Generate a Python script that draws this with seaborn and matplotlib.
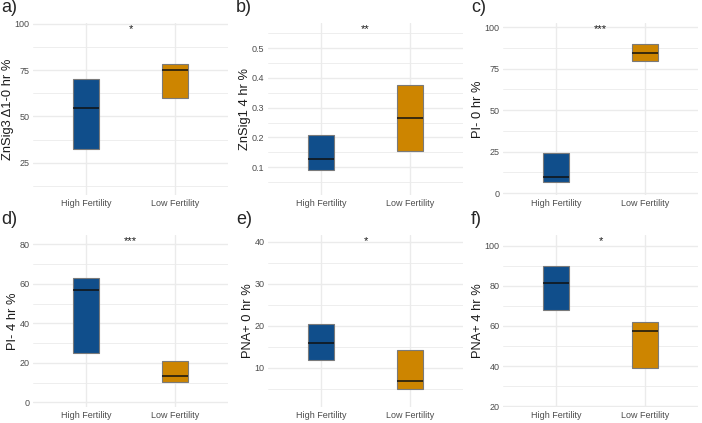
import matplotlib
matplotlib.use("Agg")
import matplotlib.pyplot as plt
from matplotlib.ticker import AutoMinorLocator, MultipleLocator
import pandas as pd
import seaborn as sns

GROUPS = ["High Fertility", "Low Fertility"]
PALETTE = {"High Fertility": "#104E8B", "Low Fertility": "#CD8500"}

PANEL_TAGS = ["a)", "b)", "c)", "d)", "e)", "f)"]
Y_LABELS = [
    "ZnSig3 \u03941-0 hr %",
    "ZnSig1 4 hr %",
    "PI- 0 hr %",
    "PI- 4 hr %",
    "PNA+ 0 hr %",
    "PNA+ 4 hr %",
]
STARS = ["*", "**", "***", "***", "*", "*"]

# box edges and medians per panel: [high fertility, low fertility]
BOX_LOWER = [[32.3, 60.0], [0.089, 0.155], [6.5, 79.6], [24.8, 10.5], [11.8, 4.9], [68.0, 39.0]]
BOX_MEDIAN = [[54.8, 75.0], [0.128, 0.264], [9.5, 84.2], [56.7, 13.3], [15.8, 6.9], [81.4, 57.3]]
BOX_UPPER = [[70.4, 78.3], [0.207, 0.376], [24.4, 90.1], [62.8, 20.9], [20.5, 14.2], [90.0, 61.8]]

Y_LIMITS = [(7.5, 100.5), (0.006, 0.585), (-1.2, 102.6), (-2.4, 84.7), (0.7, 41.6), (19.6, 105.3)]
Y_STEP = [25, 0.1, 25, 20, 10, 20]


def panel_frame(i):
    rows = []
    for g, grp in enumerate(GROUPS):
        lo, med, hi = BOX_LOWER[i][g], BOX_MEDIAN[i][g], BOX_UPPER[i][g]
        # five points so the quartiles land exactly on the box edges
        for v in (lo, lo, med, hi, hi):
            rows.append({"group": grp, "value": v})
    return pd.DataFrame(rows)


sns.set_theme(style="white")
plt.rcParams["font.family"] = ["Liberation Sans", "DejaVu Sans"]

fig, axes = plt.subplots(2, 3, figsize=(7.02, 4.23), dpi=100)
fig.subplots_adjust(left=33 / 702, right=698 / 702, top=1 - 23 / 423, bottom=1 - 407 / 423,
                    wspace=40 / 195, hspace=40 / 172)

for i, ax in enumerate(axes.flat):
    df = panel_frame(i)
    sns.boxplot(
        data=df, x="group", y="value", hue="group", order=GROUPS, hue_order=GROUPS,
        palette=PALETTE, saturation=1, width=0.3, whis=0, showcaps=False, showfliers=False,
        linecolor="#7a7a7a", linewidth=0.8,
        medianprops={"color": "#111111", "linewidth": 1.1},
        legend=False, ax=ax,
    )
    ax.set_xlim(-0.6, 1.6)
    ax.set_ylim(*Y_LIMITS[i])
    ax.yaxis.set_major_locator(MultipleLocator(Y_STEP[i]))
    ax.yaxis.set_minor_locator(AutoMinorLocator(2))
    ax.set_axisbelow(True)
    ax.grid(which="major", axis="both", color="#ebebeb", linewidth=1.0)
    ax.grid(which="minor", axis="y", color="#ebebeb", linewidth=0.6)
    for s in ax.spines.values():
        s.set_visible(False)
    ax.tick_params(which="both", length=0, labelsize=6.5, labelcolor="#4d4d4d")
    ax.tick_params(axis="x", pad=3)
    ax.tick_params(axis="y", pad=2.5)
    ax.set_xlabel("")
    ax.set_ylabel(Y_LABELS[i], fontsize=9.3, color="#1a1a1a", labelpad=0.5)
    ax.text(0.5, 0.995, STARS[i], transform=ax.transAxes, ha="center", va="top",
            fontsize=8, color="#1a1a1a")
    ax.annotate(PANEL_TAGS[i], xy=(0, 1), xycoords="axes fraction", xytext=(-32, 15),
                textcoords="offset pixels", ha="left", va="center", fontsize=13)

fig.savefig("out.png", dpi=100)
